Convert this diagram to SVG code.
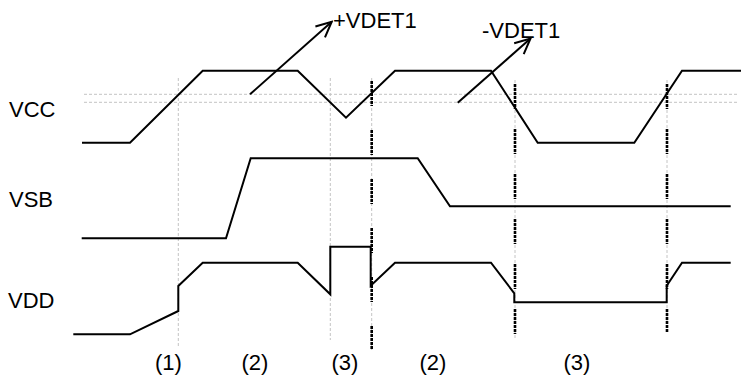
<svg xmlns="http://www.w3.org/2000/svg" width="741" height="376" viewBox="0 0 741 376">
<style>
.sig{fill:none;stroke:#000;stroke-width:2;stroke-linejoin:miter}
.grid{fill:none;stroke:#c4c4c4;stroke-width:1;stroke-dasharray:3 2}
.mark{fill:none;stroke:#000;stroke-width:2.6}
.arr{fill:none;stroke:#000;stroke-width:2}
.lbl{font-family:"Liberation Sans",Arial,sans-serif;font-size:22px;fill:#000}
</style>
<defs>
<marker id="ah" markerUnits="userSpaceOnUse" markerWidth="20" markerHeight="20" viewBox="-18 -10 20 20" refX="0" refY="0" orient="auto">
<path d="M-15.4,-7.2 L0,0 L-15.4,7.2" fill="none" stroke="#000" stroke-width="2"/>
</marker>
</defs>
<rect width="741" height="376" fill="#fff"/>
<g id="grid">
<line class="grid" x1="84" y1="94.3" x2="737" y2="94.3"/>
<line class="grid" x1="84" y1="102.3" x2="737" y2="102.3"/>
<line class="grid" x1="178.3" y1="78" x2="178.3" y2="348"/>
<line class="grid" x1="330.3" y1="78" x2="330.3" y2="340"/>
<line class="grid" x1="371.7" y1="78" x2="371.7" y2="350"/>
<line class="grid" x1="515" y1="80" x2="515" y2="340"/>
<line class="grid" x1="667" y1="80" x2="667" y2="332"/>
</g>
<g id="markers">
<line class="mark" x1="371.7" y1="81" x2="371.7" y2="350" style="stroke-dasharray:3 1 3 1 3 1 3 1 3 1 3 1 1 24"/>
<line class="mark" x1="515" y1="84" x2="515" y2="341" style="stroke-dasharray:3 1 3 1 3 1 3 1 3 1 3 1 1 20"/>
<line class="mark" x1="667" y1="84" x2="667" y2="332" style="stroke-dasharray:3 1 3 1 3 1 3 1 3 1 3 1 1 20"/>
</g>
<g id="VCC-signal">
<polyline class="sig" points="82,142.7 130,142.7 202.7,70.7 297.7,70.7 346,117.7 395,70.7 491,70.7 537.7,142.7 634.3,142.7 682,70.7 741,70.7"/>
</g>
<g id="VSB-signal">
<polyline class="sig" points="81.7,238.3 226,238.3 250.7,158.3 417.7,158.3 450,206.3 730.7,206.3"/>
</g>
<g id="VDD-signal">
<polyline class="sig" points="73.3,334.3 130,334.3 178.3,311 178.3,286 202.7,262.7 297.7,262.7 330.3,294.3 330.3,246.7 370.7,246.7 370.7,285.7 395,262.7 491,262.7 514.3,293.3 514.3,302.3 666.7,302.3 666.7,285.7 682,262.7 730.7,262.7"/>
</g>
<g id="connectors">
<line class="arr" x1="250" y1="94.3" x2="331.7" y2="21.7" marker-end="url(#ah)"/>
<line class="arr" x1="457.7" y1="102.7" x2="530.5" y2="38.5" marker-end="url(#ah)"/>
</g>
<g id="labels">
<text class="lbl" x="9" y="117.3">VCC</text>
<text class="lbl" x="9" y="207.3">VSB</text>
<text class="lbl" x="8" y="308.3">VDD</text>
<text class="lbl" x="333" y="28.3">+VDET1</text>
<text class="lbl" x="482" y="38.3">-VDET1</text>
<text class="lbl" x="168.5" y="370" text-anchor="middle">(1)</text>
<text class="lbl" x="255" y="370" text-anchor="middle">(2)</text>
<text class="lbl" x="345" y="370" text-anchor="middle">(3)</text>
<text class="lbl" x="433" y="370" text-anchor="middle">(2)</text>
<text class="lbl" x="577" y="370" text-anchor="middle">(3)</text>
</g>
</svg>
